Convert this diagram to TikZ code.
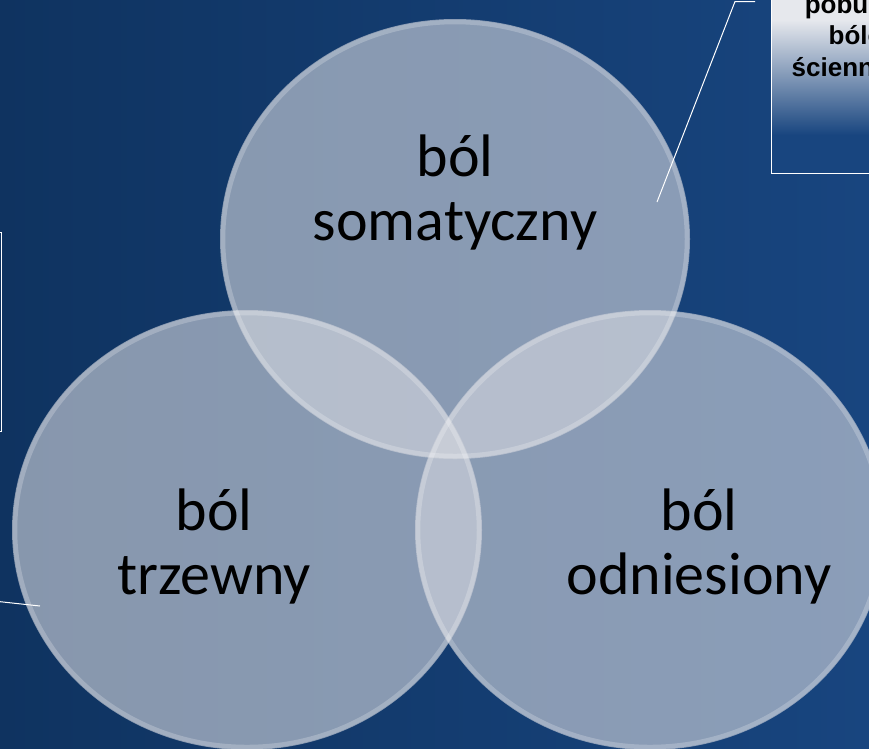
\documentclass[tikz,border=0pt]{standalone}
\usepackage{fontspec}
\setmainfont{Carlito}
\newfontfamily\calloutfont{Liberation Sans}

\definecolor{bgleft}{HTML}{0F3360}
\definecolor{bgright}{HTML}{18457F}
\definecolor{vennfill}{RGB}{210,213,221}
\definecolor{boxtop}{HTML}{E6E8ED}

\begin{document}
\begin{tikzpicture}[x=1pt, y=-1pt]
        \tikzstyle{venn}=[fill=vennfill, fill opacity=0.62]
        \tikzstyle{rim}=[draw=white, draw opacity=0.22, line width=4.5pt]
        \tikzstyle{vennlabel}=[align=center, inner sep=0pt, text=black, font=\fontsize{60}{64}\selectfont]
        \tikzstyle{callout}=[draw=white, line width=1pt]
        \tikzstyle{boxtext}=[align=center, inner sep=0pt, text=black, font=\calloutfont\bfseries\fontsize{26}{31.5}\selectfont]
        \useasboundingbox (0,0) rectangle (869,748);
        \clip (0,0) rectangle (869,748);
        \shade[left color=bgleft, right color=bgright] (0,0) rectangle (869,748);
        % three circles
        \fill[venn] (455,239) ellipse [x radius=235, y radius=220];
        \fill[venn] (247,530) ellipse [x radius=235, y radius=220];
        \fill[venn] (650,530) ellipse [x radius=235, y radius=220];
        \draw[rim] (455,239) ellipse [x radius=232, y radius=217];
        \draw[rim] (247,530) ellipse [x radius=232, y radius=217];
        \draw[rim] (650,530) ellipse [x radius=232, y radius=217];
        \node[vennlabel] (soma) at (455,192) {ból\\somatyczny};
        \node[vennlabel] (trzew) at (214,546) {ból\\trzewny};
        \node[vennlabel] (odn) at (699,546) {ból\\odniesiony};
        % callout boxes
        \fill[boxtop] (771,-40) rectangle (900,20);
        \shade[top color=boxtop, bottom color=bgright] (771,20) rectangle (900,135);
        \fill[bgright] (771,135) rectangle (900,173);
        \draw[callout] (771,-40) rectangle (900,173);
        \node[boxtext, anchor=base] (scienny) at (877,76) {pobudzenie\\bólowej\\ściennej jamy};
        \draw[callout] (-60,232) rectangle (1.5,431);
        \coordinate (somapt) at (657,202);
        \coordinate (somabend) at (735,1.5);
        \coordinate (somaend) at (755,1.5);
        \coordinate (trzewpt) at (40,606);
        \coordinate (trzewend) at (-10,600.6);
        \draw[callout] (somapt) -- (somabend) -- (somaend);
        \draw[callout] (trzewpt) -- (trzewend);
\end{tikzpicture}
\end{document}
